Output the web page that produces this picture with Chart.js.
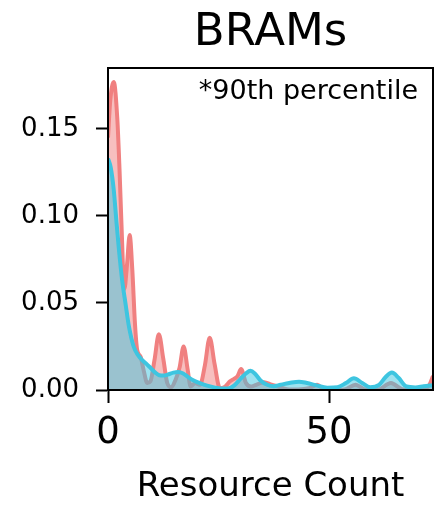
<!DOCTYPE html>
<html>
<head>
<meta charset="utf-8">
<script src="https://cdn.jsdelivr.net/npm/chart.js@4.4.1/dist/chart.umd.min.js"></script>
<style>
  html, body { margin: 0; padding: 0; background: #fff; }
  #wrap { width: 436px; height: 505px; }
</style>
</head>
<body>
<div id="wrap"><canvas id="bramChart" width="436" height="505"></canvas></div>
<script>
// density curves of BRAM usage (two groups), read as x / density pairs
const redX = [0, 0.5, 1.3, 2.1, 2.6, 3.05, 3.7, 4.3, 4.9, 5.5, 6.1, 6.6, 7.4, 8.0, 8.9, 9.6, 10.5, 11.5, 12.5, 13.4, 14.3,
    15.3, 16.2, 17.1, 18.0, 18.7, 19.7, 20.8, 21.9, 23.0, 24.1, 25.3, 26.5, 27.6, 28.6, 29.3, 30.1, 31.2, 32.3, 33.5,
    35.3, 37.0, 38.5, 40.5, 43.0, 45.5, 47.3, 48.8, 51.0, 53.5, 56.0, 58.0, 61.0, 64.0, 66.5, 69.5, 71.5, 72.7, 73.5];
const redY = [0.145, 0.166, 0.177, 0.156, 0.127, 0.095, 0.058, 0.072, 0.089, 0.069, 0.038, 0.023, 0.019, 0.012, 0.004, 0.005, 0.017, 0.032, 0.018, 0.004, 0.0015,
    0.006, 0.013, 0.025, 0.012, 0.002, 0.004, 0.003, 0.014, 0.030, 0.015, 0.001, 0.002, 0.005, 0.0065, 0.008, 0.012, 0.004, 0.002, 0.003,
    0.0045, 0.003, 0.002, 0.0005, 0.0003, 0.001, 0.003, 0.0005, 0, 0.0003, 0.003, 0.0005, 0.0003, 0.004, 0.0005, 0, 0.0005, 0.003, 0.008];

const cyanX = [0, 0.6, 1.3, 1.9, 2.5, 3.2, 4.0, 4.7, 5.8, 6.8, 7.8, 8.7, 9.7, 10.7, 11.6, 12.6, 13.5, 14.8, 15.9, 17.0, 18.2,
    19.5, 20.9, 22.4, 24.0, 25.5, 27.0, 28.5, 30.0, 31.2, 32.2, 33.2, 34.5, 36.0, 37.5, 39.0, 41.0, 43.2, 45.0, 47.0,
    49.6, 51.9, 53.8, 55.6, 57.5, 59.3, 61.3, 62.8, 64.2, 65.7, 67.5, 69.5, 71.4, 73.5];
const cyanY = [0.133, 0.128, 0.115, 0.097, 0.080, 0.063, 0.049, 0.037, 0.025, 0.020, 0.017, 0.015, 0.0125, 0.010, 0.0085, 0.0083, 0.0088, 0.0100, 0.0104, 0.0095, 0.0073,
    0.0053, 0.0038, 0.0025, 0.0015, 0.0008, 0.0008, 0.0025, 0.0065, 0.0095, 0.0110, 0.0095, 0.0055, 0.0030, 0.0022, 0.0030, 0.0040, 0.0048, 0.0040, 0.0028,
    0.0013, 0.0016, 0.0040, 0.0068, 0.0040, 0.0016, 0.0030, 0.0075, 0.0100, 0.0070, 0.0020, 0.0015, 0.0022, 0.0028];

const xTicks = [0, 50];
const yTicks = [0, 0.05, 0.10, 0.15];

const FONT = "'DejaVu Sans', sans-serif";

function toPoints(xs, ys) {
    return xs.map((x, i) => ({ x: x, y: ys[i] }));
}

// frame on all four sides, title centred over the plot, percentile note
const framePlugin = {
    id: "frame",
    afterDatasetsDraw(chart) {
        const { ctx, chartArea: a } = chart;
        ctx.save();
        ctx.strokeStyle = "#000";
        ctx.lineWidth = 2;
        ctx.strokeRect(a.left, a.top, a.right - a.left, a.bottom - a.top);
        ctx.fillStyle = "#000";
        ctx.textBaseline = "alphabetic";

        ctx.font = "45px " + FONT;
        ctx.textAlign = "center";
        ctx.fillText("BRAMs", (a.left + a.right) / 2, 45);

        ctx.font = "27px " + FONT;
        ctx.textAlign = "right";
        ctx.fillText("*90th percentile", a.right - 15, 99);
        ctx.restore();
    }
};

const ctx = document.getElementById("bramChart").getContext("2d");
new Chart(ctx, {
    type: "line",
    data: {
        datasets: [
            {
                data: toPoints(cyanX, cyanY),
                borderColor: "rgb(62, 197, 224)",
                backgroundColor: "rgba(62, 197, 224, 0.5)",
                borderWidth: 4,
                fill: "origin",
                order: 0
            },
            {
                data: toPoints(redX, redY),
                borderColor: "rgb(240, 128, 128)",
                backgroundColor: "rgba(240, 128, 128, 0.5)",
                borderWidth: 4,
                fill: "origin",
                order: 1
            }
        ]
    },
    options: {
        responsive: false,
        animation: false,
        cubicInterpolationMode: "monotone",
        elements: { point: { radius: 0 } },
        layout: { padding: { left: 0, right: 3, top: 68, bottom: 0 } },
        plugins: {
            legend: { display: false },
            tooltip: { enabled: false },
            title: { display: false }
        },
        scales: {
            x: {
                type: "linear",
                min: 0,
                max: 73.5,
                afterFit(scale) { scale.height = 115; },
                afterBuildTicks(scale) { scale.ticks = xTicks.map(v => ({ value: v })); },
                grid: { drawOnChartArea: false, drawTicks: true, tickLength: 13, tickWidth: 2, tickColor: "#000" },
                border: { display: true, color: "#000", width: 2 },
                ticks: { color: "#000", padding: 8, maxRotation: 0, font: { family: FONT, size: 37 } },
                title: {
                    display: true,
                    text: "Resource Count",
                    color: "#000",
                    font: { family: FONT, size: 34, lineHeight: 1 },
                    padding: { top: 0, bottom: 1 }
                }
            },
            y: {
                type: "linear",
                min: 0,
                max: 0.185,
                afterFit(scale) { scale.width = 108; },
                afterBuildTicks(scale) { scale.ticks = yTicks.map(v => ({ value: v })); },
                grid: { drawOnChartArea: false, drawTicks: true, tickLength: 12, tickWidth: 2, tickColor: "#000" },
                border: { display: true, color: "#000", width: 2 },
                ticks: {
                    color: "#000",
                    padding: 17,
                    font: { family: FONT, size: 26 },
                    callback: v => v.toFixed(2)
                }
            }
        }
    },
    plugins: [framePlugin]
});
</script>
</body>
</html>
